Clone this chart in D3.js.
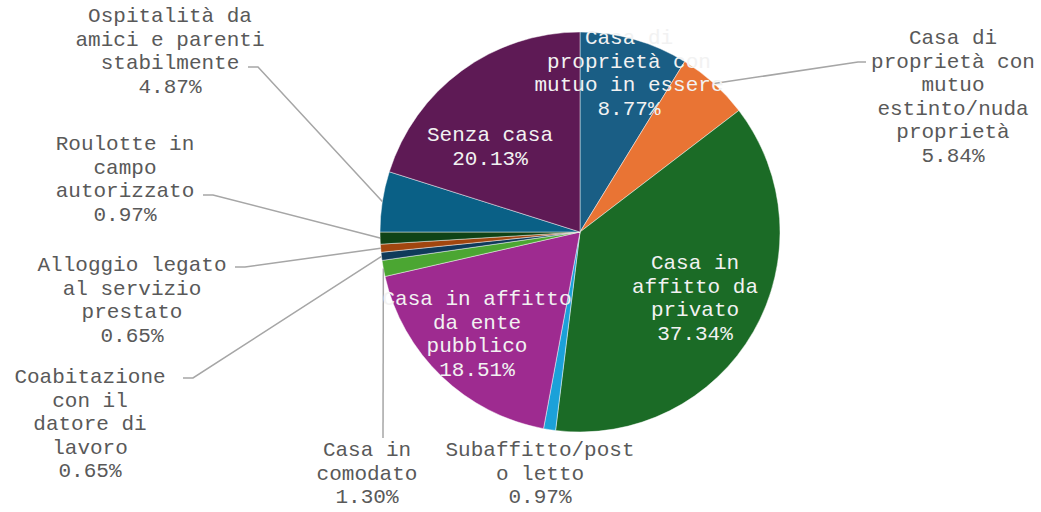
<!DOCTYPE html>
<html>
<head>
<meta charset="utf-8">
<script src="https://cdn.jsdelivr.net/npm/d3@7"></script>
<style>
  html, body { margin: 0; padding: 0; background: #ffffff; }
  svg text { font-family: "Courier New", Courier, "Nimbus Mono PS", FreeMono, "Liberation Mono", monospace; font-size: 21px; }
</style>
</head>
<body>
<div id="chart"></div>
<script>
// categories (label lines as shown in the chart)
const categories = [
    'Casa di proprietà con mutuo in essere',
    'Casa di proprietà con mutuo estinto/nuda proprietà',
    'Casa in affitto da privato',
    'Subaffitto/posto letto',
    'Casa in affitto da ente pubblico',
    'Casa in comodato',
    'Coabitazione con il datore di lavoro',
    'Alloggio legato al servizio prestato',
    'Roulotte in campo autorizzato',
    'Ospitalità da amici e parenti stabilmente',
    'Senza casa'
];
const labelLines = [
    ['Casa di', 'proprietà con', 'mutuo in essere'],
    ['Casa di', 'proprietà con', 'mutuo', 'estinto/nuda', 'proprietà'],
    ['Casa in', 'affitto da', 'privato'],
    ['Subaffitto/post', 'o letto'],
    ['Casa in affitto', 'da ente', 'pubblico'],
    ['Casa in', 'comodato'],
    ['Coabitazione', 'con il', 'datore di', 'lavoro'],
    ['Alloggio legato', 'al servizio', 'prestato'],
    ['Roulotte in', 'campo', 'autorizzato'],
    ['Ospitalità da', 'amici e parenti', 'stabilmente'],
    ['Senza casa']
];
// percentages
const values = [8.77, 5.84, 37.34, 0.97, 18.51, 1.30, 0.65, 0.65, 0.97, 4.87, 20.13];

// slice colours
const colors = ['#1a5e85', '#e97434', '#1b6b26', '#1ba1d9', '#9e2b90', '#4ba632',
    '#0f3a5a', '#a1460f', '#0f4316', '#0a6086', '#5e1a55'];

// label layout: x/y = centre of first text line, inside = drawn on slice,
// lead = end point of the leader line (with a short horizontal tail)
const labelLayout = [
    {x: 629, y: 37, inside: true},
    {x: 953, y: 37, lead: [858, 62], tail: 8},
    {x: 695, y: 262, inside: true},
    {x: 540, y: 449},
    {x: 477, y: 298, inside: true},
    {x: 367, y: 449, lead: [383, 438], tail: 0},
    {x: 90, y: 376, lead: [193, 378], tail: -10},
    {x: 132, y: 264, lead: [245, 267], tail: -10},
    {x: 125, y: 143, lead: [213, 195], tail: -10},
    {x: 170, y: 15, lead: [258, 67], tail: -10},
    {x: 490, y: 134, inside: true}
];

const width = 1041, height = 512;
const cx = 580, cy = 232, radius = 200;
const lineHeight = 23.5;

const svg = d3.select('#chart').append('svg')
    .attr('width', width)
    .attr('height', height);

const data = values.map((v, i) => ({name: categories[i], value: v, i: i}));

const pie = d3.pie().sort(null).value(d => d.value);
const arcs = pie(data);
const arc = d3.arc().innerRadius(0).outerRadius(radius);

const g = svg.append('g').attr('transform', `translate(${cx},${cy})`);

g.selectAll('path.slice')
    .data(arcs)
    .enter()
    .append('path')
    .attr('class', 'slice')
    .attr('d', arc)
    .style('fill', d => colors[d.data.i])
    .style('stroke', '#ffffff')
    .style('stroke-opacity', 0.6)
    .style('stroke-width', 0.75);

// leader lines
const leaders = svg.append('g');
arcs.forEach(d => {
    const lay = labelLayout[d.data.i];
    if (!lay.lead) return;
    const mid = (d.startAngle + d.endAngle) / 2;
    const sx = cx + radius * Math.sin(mid);
    const sy = cy - radius * Math.cos(mid);
    const pts = [[sx, sy], lay.lead];
    if (lay.tail) pts.push([lay.lead[0] + lay.tail, lay.lead[1]]);
    leaders.append('path')
        .attr('d', d3.line()(pts))
        .style('fill', 'none')
        .style('stroke', '#a6a6a6')
        .style('stroke-width', 1.5);
});

// labels
const labels = svg.append('g');
arcs.forEach(d => {
    const i = d.data.i;
    const lay = labelLayout[i];
    const lines = labelLines[i].concat([d.data.value.toFixed(2) + '%']);
    const t = labels.append('text')
        .attr('text-anchor', 'middle')
        .style('fill', lay.inside ? '#f2f2f2' : '#595959');
    lines.forEach((ln, k) => {
        t.append('tspan')
            .attr('x', lay.x)
            .attr('y', lay.y + k * lineHeight)
            .attr('dy', '0.35em')
            .text(ln);
    });
});
</script>
</body>
</html>
